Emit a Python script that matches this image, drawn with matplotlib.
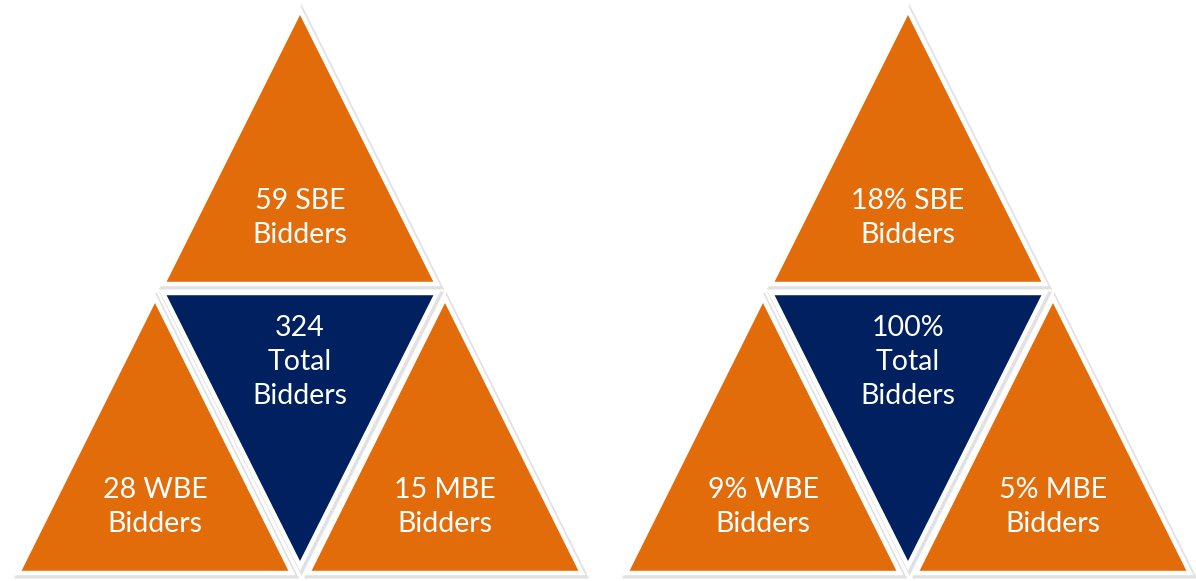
import matplotlib
matplotlib.use("Agg")
import matplotlib.pyplot as plt
from matplotlib.patches import Polygon

# ---- data ----
panels = ["counts", "percent"]
top_labels = ["59 SBE\nBidders", "18% SBE\nBidders"]
center_labels = ["324\nTotal\nBidders", "100%\nTotal\nBidders"]
left_labels = ["28 WBE\nBidders", "9% WBE\nBidders"]
right_labels = ["15 MBE\nBidders", "5% MBE\nBidders"]

ORANGE = "#E36C0A"
NAVY = "#002060"

W, H = 1196, 581
fig = plt.figure(figsize=(W / 100, H / 100), dpi=100)
ax = fig.add_axes([0, 0, 1, 1])
ax.set_xlim(0, W)
ax.set_ylim(H, 0)
ax.axis("off")

FONT = ["Lato", "DejaVu Sans"]
FS = 20.5


def tri(verts, color, z):
    # soft shadow
    sh = [(x + 1.5, y + 2) for x, y in verts]
    ax.add_patch(Polygon(sh, closed=True, facecolor="none", edgecolor="#bdbdbd",
                         lw=5, alpha=0.45, joinstyle="miter", zorder=z))
    ax.add_patch(Polygon(verts, closed=True, facecolor=color, edgecolor="white",
                         lw=3.2, joinstyle="miter", zorder=z + 0.5))


def label(x, y, s, z):
    ax.text(x, y, s, ha="center", va="center", color="white", fontsize=FS,
            family=FONT, linespacing=1.37, zorder=z)


centers = [300, 908]
hw, h = 137, 274
for i, cx in enumerate(centers):
    # bottom-left
    bl = cx - 145
    tri([(bl, 298), (bl - hw, 573), (bl + hw, 573)], ORANGE, 1)
    # bottom-right
    br = cx + 145
    tri([(br, 298), (br - hw, 573), (br + hw, 573)], ORANGE, 1)
    # top
    tri([(cx, 10), (cx - hw, 284), (cx + hw, 284)], ORANGE, 3)
    # center (navy, inverted)
    tri([(cx - hw, 293), (cx + hw, 293), (cx, 566)], NAVY, 5)

    label(cx, 218, top_labels[i], 10)
    label(cx, 362, center_labels[i], 10)
    label(bl, 507, left_labels[i], 10)
    label(br, 507, right_labels[i], 10)

fig.savefig("out.png", dpi=100, facecolor="white")
